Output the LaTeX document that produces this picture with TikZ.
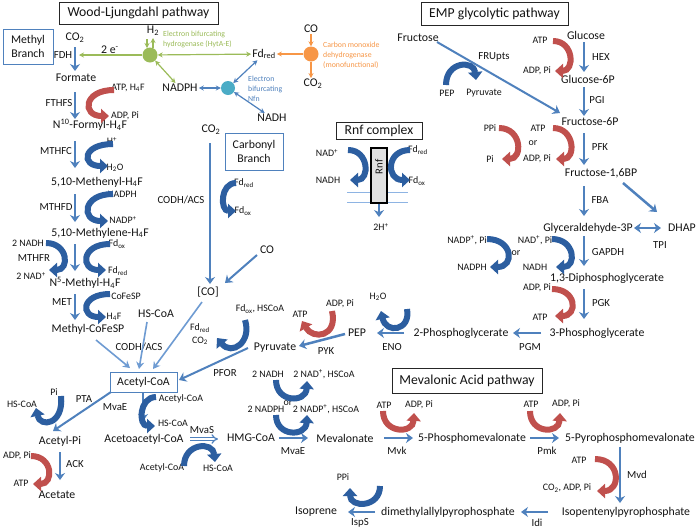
\documentclass[tikz,border=0pt]{standalone}
\usepackage{fontspec}
\setmainfont{Carlito}
\usetikzlibrary{arrows.meta}
\definecolor{txt}{RGB}{20,20,20}
\definecolor{obl}{RGB}{79,129,189}
\definecolor{lbl}{RGB}{110,155,210}
\definecolor{dbl}{RGB}{44,94,160}
\definecolor{rd}{RGB}{192,80,77}
\definecolor{grn}{RGB}{155,187,89}
\definecolor{org}{RGB}{247,150,70}
\definecolor{cyn}{RGB}{75,172,198}
\definecolor{mem}{RGB}{142,180,227}
\tikzset{
 mainlbl/.style={font=\fontsize{11.8}{13}\selectfont, text=txt, inner sep=1pt},
 enz/.style={font=\fontsize{10.8}{12}\selectfont, text=txt, inner sep=1pt},
 sm/.style={font=\fontsize{9.9}{11}\selectfont, text=txt, inner sep=1pt},
 tinylbl/.style={font=\fontsize{7.8}{10}\selectfont, align=left, anchor=west, inner sep=0pt},
 ttl/.style={draw=black!85, line width=1pt, font=\fontsize{13.7}{15}\selectfont, text=txt, inner sep=0pt},
 brn/.style={draw=obl, line width=1pt, font=\fontsize{11.8}{14}\selectfont, text=txt, align=center, inner sep=0pt},
 arr/.style={draw=obl, line width=2.5pt, -{Stealth[length=7pt,width=10pt]}},
 tarr/.style={draw=lbl, line width=1.6pt, -{Stealth[length=7pt,width=8pt]}},
 bcurve/.style={draw=dbl, line width=6pt, -{Triangle[length=8pt,width=14pt]}},
 rcurve/.style={draw=rd, line width=6pt, -{Triangle[length=8pt,width=14pt]}},
 garr/.style={draw=grn, line width=1.2pt, -{Stealth[length=5pt,width=5pt]}},
 gdbl/.style={draw=grn, line width=1.2pt, {Stealth[length=5pt,width=5pt]}-{Stealth[length=5pt,width=5pt]}},
 nfnarr/.style={draw=obl, line width=1.2pt, {Stealth[length=5pt,width=5pt]}-{Stealth[length=5pt,width=5pt]}},
 oarr/.style={draw=org, line width=1.2pt, -{Stealth[length=5pt,width=5pt]}},
}
\begin{document}
\begin{tikzpicture}[x=1pt,y=-1pt]
\useasboundingbox (0,0) rectangle (696,528);
\fill[white] (0,0) rectangle (696,528);

% ---------- title boxes ----------
\node[ttl, minimum width=159pt, minimum height=22pt] (wl) at (138.5,13) {Wood-Ljungdahl pathway};
\node[ttl, minimum width=147pt, minimum height=23pt] (emp) at (494.5,13.5) {EMP glycolytic pathway};
\node[ttl, minimum width=86pt, minimum height=17pt] (rnfc) at (379,130.5) {Rnf complex};
\node[ttl, minimum width=150pt, minimum height=25pt] (mev) at (467,380.5) {Mevalonic Acid pathway};
\node[brn, minimum width=50pt, minimum height=35pt] (mb) at (28,46.5) {Methyl\\Branch};
\node[brn, minimum width=58pt, minimum height=37pt] (cb) at (254,151.5) {Carbonyl\\Branch};

% ---------- top electron hubs ----------
\node[mainlbl] (h2) at (153,31) {H\textsubscript{2}};
\node[mainlbl] (twoe) at (110,50) {2 e\textsuperscript{-}};
\node[mainlbl] (fdredtop) at (264,54) {Fd\textsubscript{red}};
\node[mainlbl] (nadphtop) at (180,88) {NADPH};
\node[mainlbl] (nadhtop) at (272,118) {NADH};
\node[mainlbl] (cotop) at (311,29) {CO};
\node[mainlbl] (co2top) at (313,84) {CO\textsubscript{2}};
\node[circle, fill=grn, minimum size=15pt, inner sep=0pt] (hyd) at (150,55) {};
\node[circle, fill=cyn, minimum size=14pt, inner sep=0pt] (nfn) at (228,88) {};
\node[circle, fill=org, minimum size=15pt, inner sep=0pt] (codh) at (311,54) {};
\node[tinylbl, text=grn] (hytlbl) at (163,39.5) {Electron bifurcating\\hydrogenase (HytA-E)};
\node[tinylbl, text=obl] (nfnlbl) at (248,89) {Electron\\bifurcating\\Nfn};
\node[tinylbl, text=org] (codhlbl) at (323,55) {Carbon monoxide\\dehydrogenase\\(monofunctional)};
\coordinate (fdhpt) at (79,55);
\coordinate (h2in) at (147,39);
\coordinate (h2out) at (153,38);
\draw[garr] (hyd) -- (fdhpt);
\draw[garr] (h2in) -- (147,48);
\draw[garr] (153,48) -- (h2out);
\draw[gdbl] (hyd) -- (fdredtop);
\draw[gdbl] (hyd) -- (nadphtop);
\draw[nfnarr] (nadphtop) -- (nfn);
\draw[nfnarr] (nfn) -- (fdredtop);
\draw[nfnarr] (nfn) -- (nadhtop);
\draw[oarr] (cotop) -- (codh);
\draw[oarr] (codh.south) -- (codh.south |- co2top.north);
\draw[oarr] (codh) -- (fdredtop);

% ---------- methyl branch ----------
\node[mainlbl] (co2a) at (75,38) {CO\textsubscript{2}};
\node[enz] (fdh) at (63,55) {FDH};
\node[mainlbl] (formate) at (76,78) {Formate};
\node[sm] (atp1) at (128,88) {ATP, H\textsubscript{4}F};
\node[sm] (adp1) at (125,116) {ADP, Pi};
\node[enz] (fthfs) at (59,103) {FTHFS};
\node[mainlbl] (formyl) at (90,125) {N\textsuperscript{10}-Formyl-H\textsubscript{4}F};
\node[enz] (mthfc) at (56,151) {MTHFC};
\node[sm] (hplus) at (112,141) {H\textsuperscript{+}};
\node[sm] (h2o) at (115,168) {H\textsubscript{2}O};
\node[mainlbl] (methenyl) at (97,182) {5,10-Methenyl-H\textsubscript{4}F};
\node[sm] (nadph1) at (122,194) {NADPH};
\node[enz] (mthfd) at (56,207) {MTHFD};
\node[sm] (nadp1) at (123,220) {NADP\textsuperscript{+}};
\node[mainlbl] (methylene) at (100,233) {5,10-Methylene-H\textsubscript{4}F};
\node[sm] (nadh2) at (28,243) {2 NADH};
\node[enz] (mthfr) at (34,258) {MTHFR};
\node[sm] (nad2) at (31,276) {2 NAD\textsuperscript{+}};
\node[sm] (fdox1) at (117,244) {Fd\textsubscript{ox}};
\node[sm] (fdred1) at (118,271) {Fd\textsubscript{red}};
\node[mainlbl] (n5) at (85,283) {N\textsuperscript{5}-Methyl-H\textsubscript{4}F};
\node[sm] (cofesp) at (126,296) {CoFeSP};
\node[enz] (met) at (62,302) {MET};
\node[sm] (h4f) at (114,317) {H\textsubscript{4}F};
\node[mainlbl] (mcofesp) at (88,329) {Methyl-CoFeSP};

\draw[arr] (75,47) -- (75,71);
\draw[arr] (75,92) -- (75,119);
\draw[arr] (75,141) -- (75,168);
\draw[arr] (75,194) -- (75,222);
\draw[arr] (75,244) -- (75,271);
\draw[arr] (75,294) -- (75,320);
\draw[rcurve] (114,90) .. controls (83,90) and (82,116) .. (109,116);
\draw[bcurve] (113,144) .. controls (82,144) and (81,166) .. (108,166);
\draw[bcurve] (113,194) .. controls (82,194) and (81,221) .. (108,221);
\draw[bcurve] (46,243) .. controls (68,243) and (70,270) .. (49,270);
\draw[bcurve] (110,244) .. controls (81,244) and (80,270) .. (106,270);
\draw[bcurve] (110,294) .. controls (81,294) and (80,317) .. (106,317);

% ---------- carbonyl branch ----------
\node[mainlbl] (co2b) at (211,130) {CO\textsubscript{2}};
\node[enz] (codh1) at (181,200) {CODH/ACS};
\node[sm] (fdred2) at (244,183) {Fd\textsubscript{red}};
\node[sm] (fdox2) at (243,211) {Fd\textsubscript{ox}};
\node[mainlbl] (co) at (267,250) {CO};
\node[mainlbl] (coint) at (208,292) {[CO]};
\node[mainlbl] (hscoa1) at (156,314) {HS-CoA};
\node[enz] (codh2) at (139,347) {CODH/ACS};
\node[draw=obl, line width=1pt, minimum width=67pt, minimum height=20pt, inner sep=0pt,
      font=\fontsize{11.8}{13}\selectfont, text=txt] (acoa) at (143.5,382) {Acetyl-CoA};
\draw[arr, line width=2pt] (210,143) -- (210,284);
\draw[arr, line width=2pt] (257,255) -- (225,283);
\draw[bcurve] (236,183) .. controls (220,183) and (220,211) .. (236,211);
\draw[tarr] (96,340) -- (130,368);
\draw[tarr] (147,322) -- (139,369);
\draw[tarr] (202,302) -- (153,369);

% ---------- pyruvate / PEP ----------
\node[enz] (pfor) at (225,373) {PFOR};
\node[mainlbl] (pyr) at (275,348) {Pyruvate};
\node[sm] (fdoxh) at (260,309) {Fd\textsubscript{ox}, HSCoA};
\node[sm] (fdred3) at (200,328) {Fd\textsubscript{red}};
\node[sm] (co2c) at (200,341) {CO\textsubscript{2}};
\node[sm] (atp2) at (300,314) {ATP};
\node[sm] (adp2) at (340,304) {ADP, Pi};
\node[mainlbl] (pep) at (357,333) {PEP};
\node[enz] (pyk) at (326,351) {PYK};
\node[sm] (h2o2) at (378,297) {H\textsubscript{2}O};
\node[enz] (eno) at (392,347) {ENO};
\node[mainlbl] (pg2) at (461,333) {2-Phosphoglycerate};
\node[mainlbl] (pg3) at (597,333) {3-Phosphoglycerate};
\node[enz] (pgm) at (530,347) {PGM};
\draw[arr, line width=2pt] (248,348) -- (179,380);
\draw[arr] (345,334) -- (299,346);
\draw[arr] (404,333) -- (377,333);
\draw[arr] (541,333) -- (513,333);
\draw[bcurve] (245,320) .. controls (252,342) and (232,356) .. (217,338);
\draw[rcurve] (332,311) .. controls (338,337) and (313,340) .. (302,321);
\draw[bcurve] (407,309) .. controls (411,331) and (386,334) .. (381,311);

% ---------- EMP ----------
\node[mainlbl] (fru) at (418,38) {Fructose};
\node[enz] (frupts) at (494,57) {FRUpts};
\node[sm] (pep2) at (447,93) {PEP};
\node[sm] (pyr2) at (484,93) {Pyruvate};
\node[mainlbl] (glc) at (586,35) {Glucose};
\node[enz] (hex) at (601,57) {HEX};
\node[sm] (atp3) at (540,40) {ATP};
\node[sm] (adp3) at (537,71) {ADP, Pi};
\node[mainlbl] (g6p) at (588,79) {Glucose-6P};
\node[enz] (pgi) at (597,100) {PGI};
\node[mainlbl] (f6p) at (590,122) {Fructose-6P};
\node[sm] (ppi) at (490,128) {PPi};
\node[sm] (pi) at (490,159) {Pi};
\node[sm] (or1) at (533,143) {or};
\node[sm] (atp4) at (538,128) {ATP};
\node[sm] (adp4) at (537,159) {ADP, Pi};
\node[enz] (pfk) at (600,147) {PFK};
\node[mainlbl] (f16bp) at (601,173) {Fructose-1,6BP};
\node[enz] (fba) at (600,200) {FBA};
\node[mainlbl] (gap) at (588,228) {Glyceraldehyde-3P};
\node[mainlbl] (dhap) at (682,228) {DHAP};
\node[enz] (tpi) at (660,245) {TPI};
\node[sm] (nadpp) at (467,240) {NADP\textsuperscript{+}, Pi};
\node[sm] (nadph2) at (472,267) {NADPH};
\node[sm] (or2) at (516,253) {or};
\node[sm] (nadp) at (535,240) {NAD\textsuperscript{+}, Pi};
\node[sm] (nadh3) at (535,267) {NADH};
\node[enz] (gapdh) at (608,252) {GAPDH};
\node[mainlbl] (dpg) at (607,278) {1,3-Diphosphoglycerate};
\node[sm] (adp5) at (537,288) {ADP, Pi};
\node[sm] (atp5) at (540,317) {ATP};
\node[enz] (pgk) at (601,303) {PGK};
\draw[arr, line width=2pt] (437,42) -- (560,113);
\draw[arr] (584,42) -- (584,72);
\draw[arr] (584,87) -- (584,116);
\draw[arr] (584,133) -- (584,165);
\draw[arr] (584,186) -- (584,216);
\draw[arr] (584,236) -- (584,266);
\draw[arr] (584,289) -- (584,319);
\draw[arr] (623,183) -- (657,212);
\draw[draw=obl, line width=2.5pt, {Stealth[length=7pt,width=10pt]}-{Stealth[length=7pt,width=10pt]}] (634,228) -- (661,228);
\draw[bcurve] (446,85) .. controls (446,61) and (474,60) .. (476,80);
\draw[rcurve] (553,41) .. controls (574,41) and (575,71) .. (555,71);
\draw[rcurve] (499,128) .. controls (522,128) and (523,159) .. (502,159);
\draw[rcurve] (553,128) .. controls (575,128) and (576,159) .. (556,159);
\draw[bcurve] (487,239) .. controls (513,239) and (515,267) .. (490,267);
\draw[bcurve] (552,239) .. controls (575,239) and (577,267) .. (556,267);
\draw[rcurve] (552,289) .. controls (577,289) and (578,316) .. (555,316);

% ---------- Rnf complex ----------
\draw[mem, line width=1pt] (347,192) -- (408,192);
\draw[mem, line width=1pt] (347,202) -- (408,202);
\node[draw=black, line width=2pt, fill=black!12, minimum width=16pt, minimum height=55pt, inner sep=0pt] (rnfbox) at (379,175.5) {};
\node[rotate=90, font=\fontsize{10.8}{12}\selectfont, text=txt, inner sep=0pt] (rnft) at (379,167) {Rnf};
\node[sm] (nadr) at (327,153) {NAD\textsuperscript{+}};
\node[sm] (nadhr) at (328,180) {NADH};
\node[sm] (fdredr) at (418,150) {Fd\textsubscript{red}};
\node[sm] (fdoxr) at (417,181) {Fd\textsubscript{ox}};
\node[sm] (h2r) at (381,227) {2H\textsuperscript{+}};
\draw[arr, line width=2pt] (rnfbox.south) -- (379,217);
\draw[bcurve] (348,150) .. controls (369,150) and (370,180) .. (350,180);
\draw[bcurve] (410,150) .. controls (386,150) and (386,180) .. (410,180);

% ---------- acetyl-Pi / acetate ----------
\node[enz] (pta) at (84,399) {PTA};
\node[sm] (pi2) at (54,392) {Pi};
\node[sm] (hscoa4) at (22,404) {HS-CoA};
\node[mainlbl] (acpi) at (60,441) {Acetyl-Pi};
\node[enz] (ack) at (75,464) {ACK};
\node[sm] (adp8) at (17,456) {ADP, Pi};
\node[sm] (atp9) at (21,483) {ATP};
\node[mainlbl] (acetate) at (57,495) {Acetate};
\draw[arr, line width=2pt] (111,392) -- (53,431);
\draw[arr] (60,452) -- (60,480);
\draw[bcurve] (61,396) .. controls (64,425) and (40,428) .. (36,408);
\draw[rcurve] (31,456) .. controls (53,456) and (54,484) .. (33,484);

% ---------- mevalonate ----------
\node[enz] (mvae1) at (115,407) {MvaE};
\node[sm] (acoa2) at (181,399) {Acetyl-CoA};
\node[sm] (hscoa2) at (173,423) {HS-CoA};
\node[mainlbl] (aacoa) at (144,439) {Acetoacetyl-CoA};
\node[enz] (mvas) at (202,430) {MvaS};
\node[sm] (acoa3) at (162,468) {Acetyl-CoA};
\node[sm] (hscoa3) at (218,468) {HS-CoA};
\node[mainlbl] (hmg) at (251,438) {HMG-CoA};
\node[sm] (nadh4) at (268,374) {2 NADH};
\node[sm] (nad4) at (324,374) {2 NAD\textsuperscript{+}, HSCoA};
\node[sm] (or3) at (288,403) {or};
\node[sm] (nadph4) at (266,409) {2 NADPH};
\node[sm] (nadp4) at (326,409) {2 NADP\textsuperscript{+}, HSCoA};
\node[enz] (mvae2) at (293,451) {MvaE};
\node[mainlbl] (meva) at (345,438) {Mevalonate};
\node[sm] (atp6) at (384,405) {ATP};
\node[sm] (adp6) at (419,405) {ADP, Pi};
\node[enz] (mvk) at (397,451) {Mvk};
\node[mainlbl] (p5) at (472,438) {5-Phosphomevalonate};
\node[sm] (atp7) at (531,404) {ATP};
\node[sm] (adp7) at (566,404) {ADP, Pi};
\node[enz] (pmk) at (547,451) {Pmk};
\node[mainlbl] (pp5) at (630,438) {5-Pyrophosphomevalonate};
\node[sm] (atp8) at (579,460) {ATP};
\node[sm] (co2adp) at (567,488) {CO\textsubscript{2}, ADP, Pi};
\node[enz] (mvd) at (637,475) {Mvd};
\node[mainlbl] (ipp) at (626,512) {Isopentenylpyrophosphate};
\node[enz] (idi) at (537,523) {Idi};
\node[mainlbl] (dmapp) at (448,512) {dimethylallylpyrophosphate};
\node[enz] (isps) at (360,523) {IspS};
\node[mainlbl] (isoprene) at (316,512) {Isoprene};
\node[sm] (ppi2) at (343,477) {PPi};

\draw[arr] (143,392) -- (143,421);
\draw[draw=obl, line width=1.2pt, double=white, double distance=2pt, -{Implies}] (190,439) -- (218,439);
\draw[arr] (279,438) -- (308,438);
\draw[arr] (384,438) -- (413,438);
\draw[arr] (530,438) -- (559,438);
\draw[arr] (620,447) -- (620,503);
\draw[arr] (548,512) -- (521,512);
\draw[arr] (375,512) -- (348,512);
\draw[bcurve] (156,397) .. controls (139,397) and (138,426) .. (155,426);
\draw[bcurve] (184,466) .. controls (184,443) and (213,441) .. (215,462);
\draw[bcurve] (276,380) .. controls (276,403) and (306,403) .. (307,381);
\draw[bcurve] (276,415) .. controls (276,437) and (306,437) .. (307,415);
\draw[rcurve] (383,411) .. controls (383,434) and (413,434) .. (414,413);
\draw[rcurve] (530,411) .. controls (530,434) and (559,434) .. (560,413);
\draw[rcurve] (595,459) .. controls (621,459) and (621,491) .. (597,491);
\draw[bcurve] (380,486) .. controls (380,508) and (350,508) .. (350,488);
\end{tikzpicture}
\end{document}
